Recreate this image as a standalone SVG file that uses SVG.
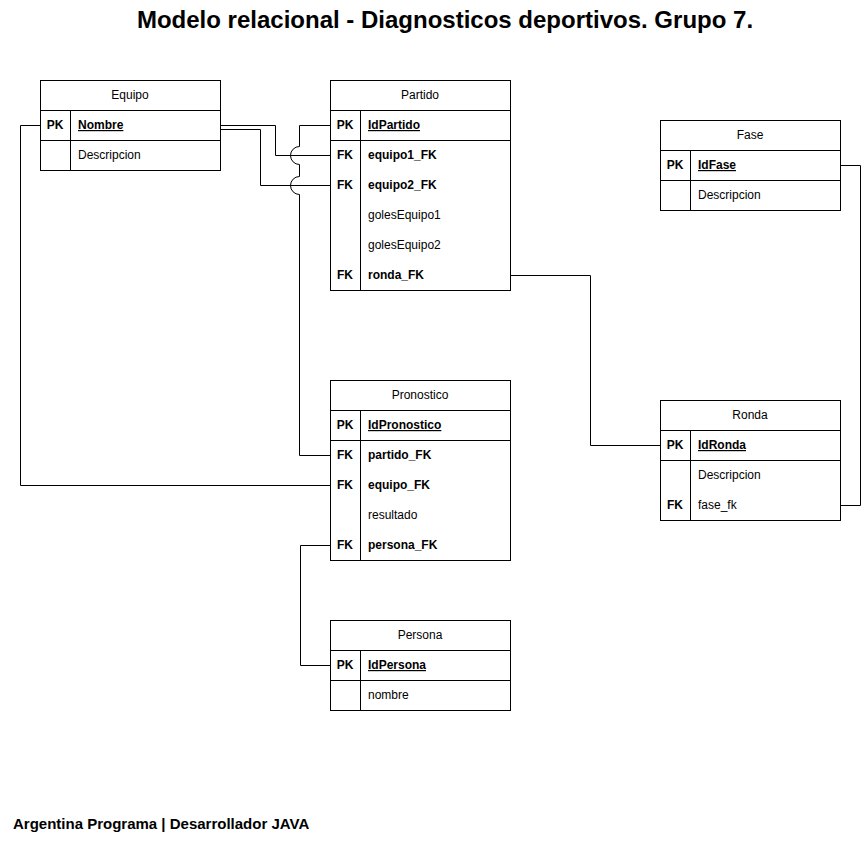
<svg xmlns="http://www.w3.org/2000/svg" width="862" height="841" viewBox="0 0 862 841">
<style>
.box{fill:#fff;stroke:#000;stroke-width:1}
.ln{fill:none;stroke:#000;stroke-width:1}
text{font-family:"Liberation Sans",Arial,sans-serif;font-size:12px;fill:#000}
.h{text-anchor:middle}
.k{text-anchor:middle;font-weight:bold}
.b{font-weight:bold}
.u{font-weight:bold;text-decoration:underline}
.title{font-size:24px;font-weight:bold;text-anchor:middle}
.foot{font-size:15px;font-weight:bold}
</style>
<rect width="862" height="841" fill="#fff"/>
<text class="title" x="445" y="28">Modelo relacional - Diagnosticos deportivos. Grupo 7.</text>
<text class="foot" x="13" y="829">Argentina Programa | Desarrollador JAVA</text>

<g id="connectors">
<path class="ln" d="M220.5,125.5 H275.5 V155.5 H330.5"/>
<path class="ln" d="M220.5,129.5 H260.5 V185.5 H330.5"/>
<path class="ln" d="M330.5,455.5 H299.5 V194.5 A9 9 0 0 1 299.5,176.5 V164.5 A9 9 0 0 1 299.5,146.5 V125.5 H330.5"/>
<path class="ln" d="M330.5,485.5 H20.5 V125.5 H40.5"/>
<path class="ln" d="M330.5,545.5 H300.5 V665.5 H330.5"/>
<path class="ln" d="M510.5,275.5 H590.5 V445.5 H660.5"/>
<path class="ln" d="M840.5,165.5 H860.5 V505.5 H840.5"/>
</g>

<g id="equipo">
<rect class="box" x="40.5" y="80.5" width="180" height="90"/>
<path class="ln" d="M40.5,110.5 H220.5 M40.5,140.5 H220.5 M70.5,110.5 V170.5"/>
<text class="h" x="130" y="99">Equipo</text>
<text class="k" x="55" y="129">PK</text>
<text class="u" x="78" y="129">Nombre</text>
<text x="78" y="159">Descripcion</text>
</g>

<g id="partido">
<rect class="box" x="330.5" y="80.5" width="180" height="210"/>
<path class="ln" d="M330.5,110.5 H510.5 M330.5,140.5 H510.5 M360.5,110.5 V290.5"/>
<text class="h" x="420" y="99">Partido</text>
<text class="k" x="345" y="129">PK</text>
<text class="u" x="368" y="129">IdPartido</text>
<text class="k" x="345" y="159">FK</text>
<text class="b" x="368" y="159">equipo1_FK</text>
<text class="k" x="345" y="189">FK</text>
<text class="b" x="368" y="189">equipo2_FK</text>
<text x="368" y="219">golesEquipo1</text>
<text x="368" y="249">golesEquipo2</text>
<text class="k" x="345" y="279">FK</text>
<text class="b" x="368" y="279">ronda_FK</text>
</g>

<g id="fase">
<rect class="box" x="660.5" y="120.5" width="180" height="90"/>
<path class="ln" d="M660.5,150.5 H840.5 M660.5,180.5 H840.5 M690.5,150.5 V210.5"/>
<text class="h" x="750" y="139">Fase</text>
<text class="k" x="675" y="169">PK</text>
<text class="u" x="698" y="169">IdFase</text>
<text x="698" y="199">Descripcion</text>
</g>

<g id="pronostico">
<rect class="box" x="330.5" y="380.5" width="180" height="180"/>
<path class="ln" d="M330.5,410.5 H510.5 M330.5,440.5 H510.5 M360.5,410.5 V560.5"/>
<text class="h" x="420" y="399">Pronostico</text>
<text class="k" x="345" y="429">PK</text>
<text class="u" x="368" y="429">IdPronostico</text>
<text class="k" x="345" y="459">FK</text>
<text class="b" x="368" y="459">partido_FK</text>
<text class="k" x="345" y="489">FK</text>
<text class="b" x="368" y="489">equipo_FK</text>
<text x="368" y="519">resultado</text>
<text class="k" x="345" y="549">FK</text>
<text class="b" x="368" y="549">persona_FK</text>
</g>

<g id="ronda">
<rect class="box" x="660.5" y="400.5" width="180" height="120"/>
<path class="ln" d="M660.5,430.5 H840.5 M660.5,460.5 H840.5 M690.5,430.5 V520.5"/>
<text class="h" x="750" y="419">Ronda</text>
<text class="k" x="675" y="449">PK</text>
<text class="u" x="698" y="449">IdRonda</text>
<text x="698" y="479">Descripcion</text>
<text class="k" x="675" y="509">FK</text>
<text x="698" y="509">fase_fk</text>
</g>

<g id="persona">
<rect class="box" x="330.5" y="620.5" width="180" height="90"/>
<path class="ln" d="M330.5,650.5 H510.5 M330.5,680.5 H510.5 M360.5,650.5 V710.5"/>
<text class="h" x="420" y="639">Persona</text>
<text class="k" x="345" y="669">PK</text>
<text class="u" x="368" y="669">IdPersona</text>
<text x="368" y="699">nombre</text>
</g>
</svg>
